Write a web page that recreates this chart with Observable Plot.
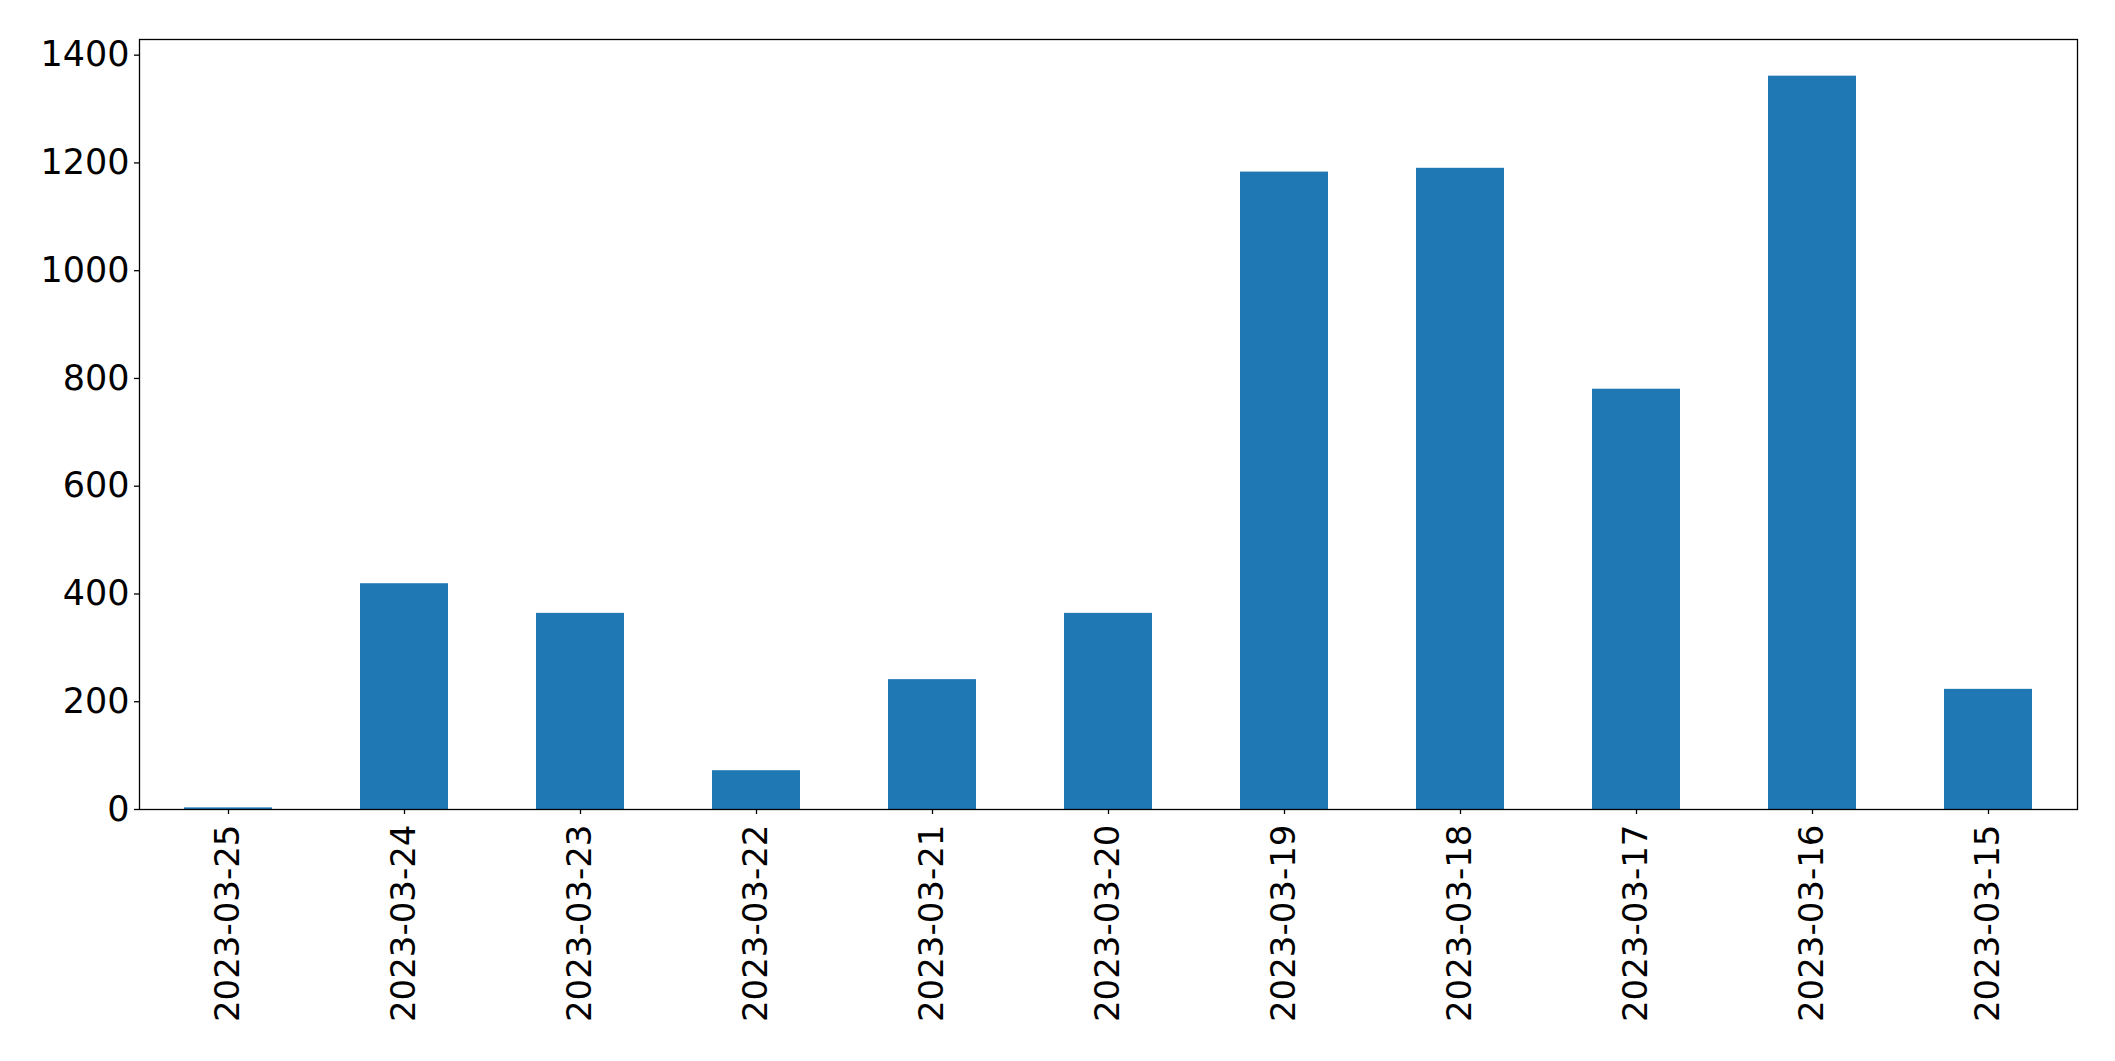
<!DOCTYPE html>
<html>
<head>
<meta charset="utf-8">
<script src="https://cdn.jsdelivr.net/npm/d3@7"></script>
<script src="https://cdn.jsdelivr.net/npm/@observablehq/plot@0.6"></script>
<style>
  html, body { margin: 0; padding: 0; background: #fff; }
  #chart svg { display: block; }
</style>
</head>
<body>
<div id="chart"></div>
<script>
const dates = ["2023-03-25","2023-03-24","2023-03-23","2023-03-22","2023-03-21","2023-03-20","2023-03-19","2023-03-18","2023-03-17","2023-03-16","2023-03-15"];
const counts = [3, 419, 364, 72, 241, 364, 1183, 1190, 780, 1361, 223];
const yTicks = [0, 200, 400, 600, 800, 1000, 1200, 1400];

const data = dates.map((d, i) => ({date: d, count: counts[i]}));
const ymax = d3.max(counts) * 1.05;

const chart = Plot.plot({
  width: 2115,
  height: 1061,
  marginLeft: 139,
  marginRight: 38,
  marginTop: 39,
  marginBottom: 252,
  style: {fontFamily: "DejaVu Sans", background: "#fff", color: "#000"},
  x: {type: "band", domain: dates, paddingInner: 0.5, paddingOuter: 0.25, label: null},
  y: {domain: [0, ymax], label: null},
  marks: [
    Plot.barY(data, {x: "date", y: "count", fill: "#1f77b4"}),
    Plot.axisY({ticks: yTicks, tickFormat: d => String(d), tickSize: 5, tickPadding: 5, fontSize: 35, label: null, stroke: "#000", strokeWidth: 1.3}),
    Plot.axisX({tickSize: 5, tickPadding: 10, tickRotate: -90, fontSize: 34, label: null, stroke: "#000", strokeWidth: 1.3}),
    Plot.frame({stroke: "#000", strokeWidth: 1.3})
  ]
});
document.getElementById("chart").appendChild(chart);
</script>
</body>
</html>
